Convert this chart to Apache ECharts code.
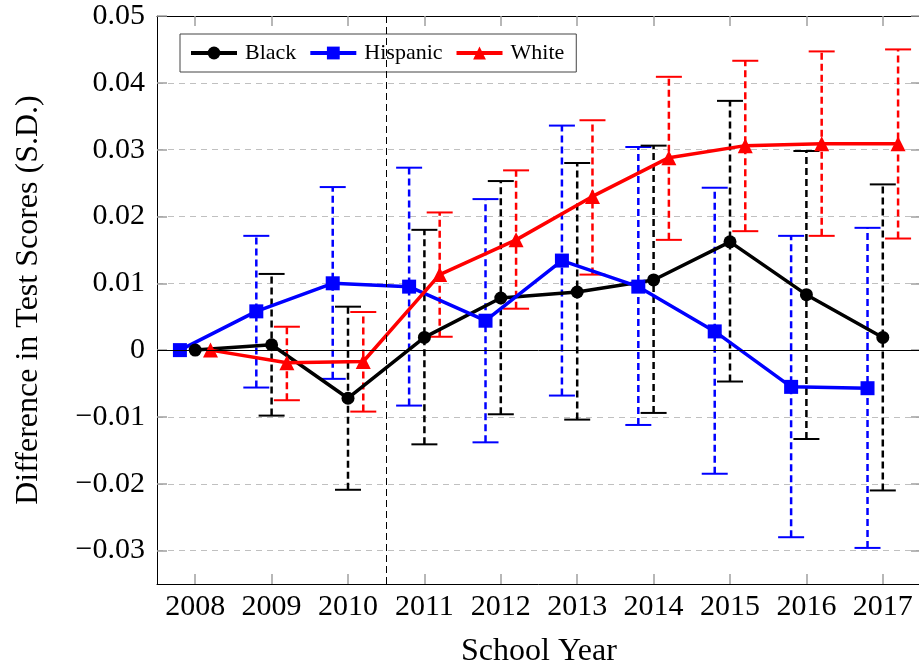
<!DOCTYPE html>
<html><head><meta charset="utf-8">
<script src="https://cdn.jsdelivr.net/npm/echarts@6/dist/echarts.min.js"></script>
<style>html,body{margin:0;padding:0;background:#fff}#c{width:919px;height:666px}</style>
</head><body><div id="c"></div>
<script>
const years = [2008, 2009, 2010, 2011, 2012, 2013, 2014, 2015, 2016, 2017];
const yTicks = [-0.03, -0.02, -0.01, 0, 0.01, 0.02, 0.03, 0.04, 0.05];

const blackMean = [0, 0.0008, -0.0072, 0.0019, 0.0078, 0.0087, 0.0105, 0.0162, 0.0083, 0.0019];
const blackLow  = [null, -0.0098, -0.0209, -0.0141, -0.0096, -0.0104, -0.0094, -0.0047, -0.0133, -0.0210];
const blackHigh = [null, 0.0114, 0.0065, 0.0180, 0.0253, 0.0280, 0.0306, 0.0373, 0.0298, 0.0248];

const hispMean = [0, 0.0058, 0.0100, 0.0095, 0.0044, 0.0134, 0.0095, 0.0028, -0.0055, -0.0057];
const hispLow  = [null, -0.0056, -0.0043, -0.0083, -0.0138, -0.0068, -0.0112, -0.0185, -0.0280, -0.0296];
const hispHigh = [null, 0.0171, 0.0244, 0.0273, 0.0226, 0.0336, 0.0304, 0.0243, 0.0171, 0.0183];

const whiteMean = [0, -0.0019, -0.0017, 0.0113, 0.0165, 0.0230, 0.0288, 0.0306, 0.0309, 0.0309];
const whiteLow  = [null, -0.0075, -0.0092, 0.0020, 0.0062, 0.0113, 0.0165, 0.0178, 0.0171, 0.0167];
const whiteHigh = [null, 0.0035, 0.0057, 0.0206, 0.0269, 0.0344, 0.0409, 0.0433, 0.0447, 0.0450];

const FONT = 'Liberation Serif';
const chart = echarts.init(document.getElementById('c'));

function errSeries(name, color, offset, low, high) {
  const data = [];
  years.forEach((y, i) => { if (low[i] != null) data.push([y + offset, low[i], high[i]]); });
  return {
    type: 'custom', name: name + ' CI', z: 1, silent: true, data,
    encode: { x: 0, y: [1, 2] },
    renderItem(params, api) {
      const x = api.value(0);
      const p1 = api.coord([x, api.value(1)]);
      const p2 = api.coord([x, api.value(2)]);
      const w = 13;
      return { type: 'group', children: [
        { type: 'line', shape: { x1: p1[0], y1: p1[1], x2: p2[0], y2: p2[1] }, style: { stroke: color, lineWidth: 2.5, lineDash: [7, 4] } },
        { type: 'line', shape: { x1: p1[0] - w, y1: p1[1], x2: p1[0] + w, y2: p1[1] }, style: { stroke: color, lineWidth: 2 } },
        { type: 'line', shape: { x1: p2[0] - w, y1: p2[1], x2: p2[0] + w, y2: p2[1] }, style: { stroke: color, lineWidth: 2 } }
      ]};
    }
  };
}

function lineSeries(name, color, offset, vals, symbol, size, extra) {
  return Object.assign({
    type: 'line', name, z: 3,
    data: years.map((y, i) => [y + offset, vals[i]]),
    symbol, symbolSize: size, showAllSymbol: true,
    lineStyle: { color, width: 3.5 },
    itemStyle: { color, borderWidth: 0 },
    emphasis: { disabled: true },
    animation: false
  }, extra || {});
}

const tickStyle = { show: true, inside: true, length: 10, lineStyle: { color: '#a0a0a0', width: 1.5 } };
const axisLineStyle = { show: true, onZero: false, lineStyle: { color: '#000', width: 1 } };
const yFmt = v => v === 0 ? '0' : (v < 0 ? '\u2212' : '') + Math.abs(v).toFixed(2);

chart.setOption({
  animation: false,
  grid: { left: 157, right: -2, top: 16, bottom: 82, containLabel: false, outerBoundsMode: 'none' },
  legend: {
    data: ['Black', 'Hispanic', 'White'],
    left: 180, top: 34,
    padding: [8, 12, 8, 9],
    itemWidth: 46, itemHeight: 16, itemGap: 12,
    backgroundColor: '#fff', borderColor: '#444', borderWidth: 1,
    lineStyle: { width: 4 },
    textStyle: { fontFamily: FONT, fontSize: 22, color: '#000', padding: [0, 0, 0, 3] }
  },
  xAxis: [{
    type: 'value', min: 2007.5, max: 2017.5,
    axisLine: axisLineStyle,
    axisTick: Object.assign({ customValues: years }, tickStyle),
    axisLabel: { customValues: years, formatter: v => String(v), fontFamily: FONT, fontSize: 30, color: '#000', margin: 8 },
    splitLine: { show: false },
    name: 'School Year', nameLocation: 'middle', nameGap: 52,
    nameTextStyle: { fontFamily: FONT, fontSize: 32, color: '#000' }
  }, {
    type: 'value', min: 2007.5, max: 2017.5, position: 'top',
    axisLine: axisLineStyle,
    axisTick: Object.assign({ customValues: years }, tickStyle),
    axisLabel: { show: false }, splitLine: { show: false }
  }],
  yAxis: [{
    type: 'value', min: -0.035, max: 0.05,
    axisLine: axisLineStyle,
    axisTick: Object.assign({ customValues: yTicks }, tickStyle),
    axisLabel: { customValues: yTicks, formatter: yFmt, fontFamily: FONT, fontSize: 30, color: '#000', margin: 12 },
    splitLine: { show: true, lineStyle: { color: '#c0c0c0', width: 1.2, type: [6, 5] } },
    name: 'Difference in Test Scores (S.D.)', nameLocation: 'middle', nameGap: 112,
    nameTextStyle: { fontFamily: FONT, fontSize: 32, color: '#000' }
  }, {
    type: 'value', min: -0.035, max: 0.05, position: 'right',
    axisLine: axisLineStyle,
    axisTick: Object.assign({ customValues: yTicks }, tickStyle),
    axisLabel: { show: false }, splitLine: { show: false }
  }],
  series: [
    errSeries('Hispanic', '#0000ff', -0.2, hispLow, hispHigh),
    errSeries('Black', '#000000', 0, blackLow, blackHigh),
    errSeries('White', '#ff0000', 0.2, whiteLow, whiteHigh),
    lineSeries('Black', '#000000', 0, blackMean, 'circle', 13, {
      markLine: {
        silent: true, symbol: 'none', label: { show: false }, animation: false,
        data: [
          { yAxis: 0, lineStyle: { color: '#000', width: 1, type: 'solid' } },
          { xAxis: 2010.5, lineStyle: { color: '#000', width: 1, type: [7, 4] } }
        ]
      }
    }),
    lineSeries('Hispanic', '#0000ff', -0.2, hispMean, 'rect', 14),
    lineSeries('White', '#ff0000', 0.2, whiteMean, 'triangle', 15)
  ]
});
</script></body></html>
